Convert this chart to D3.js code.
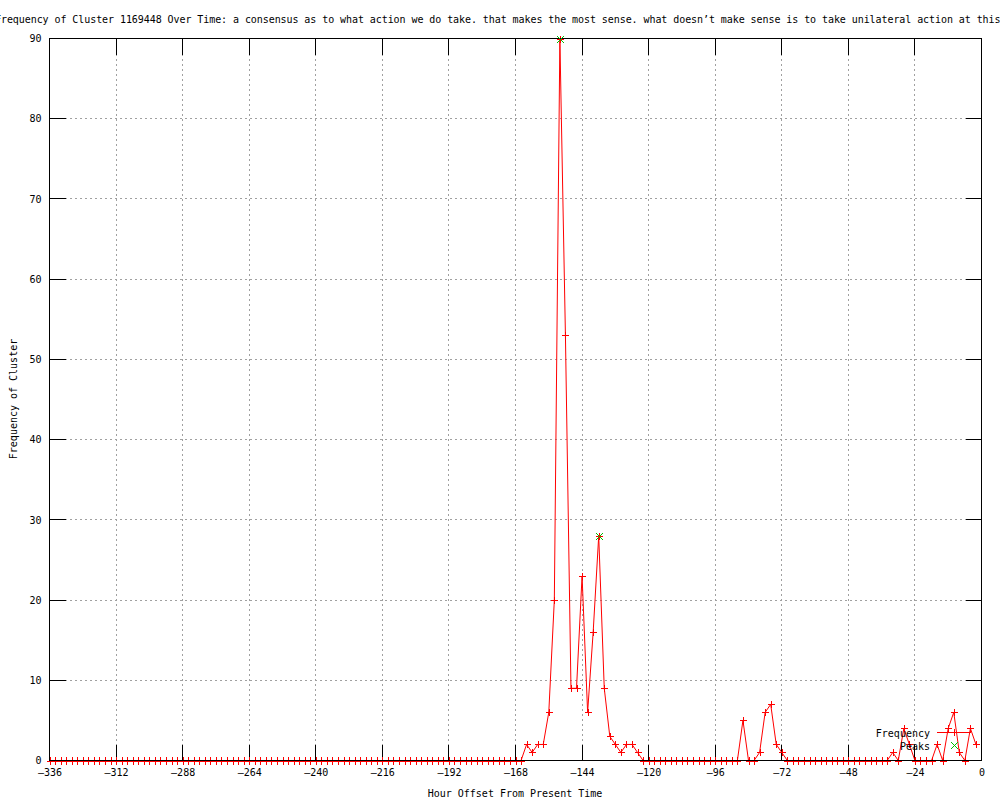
<!DOCTYPE html>
<html>
<head>
<meta charset="utf-8">
<script src="https://cdn.jsdelivr.net/npm/d3@7"></script>
<style>
  html, body { margin: 0; padding: 0; background: #fff; }
  svg { display: block; font-family: 'DejaVu Sans Mono', monospace; font-size: 10px; }
</style>
</head>
<body>
<script>
// ===================================================================

const TITLE = 'Frequency of Cluster 1169448 Over Time: a consensus as to what action we do take. that makes the most sense. what doesn’t make sense is to take unilateral action at this'
const X_LABEL = 'Hour Offset From Present Time'
const Y_LABEL = 'Frequency of Cluster'

const X_TICKS = [ -336, -312, -288, -264, -240, -216, -192, -168, -144, -120, -96, -72, -48, -24, 0 ]
const Y_TICKS = [ 0, 10, 20, 30, 40, 50, 60, 70, 80, 90 ]

// one sample every 2 hours, from -336 to -2
const HOURS = d3.range(-336, 0, 2)

const FREQUENCY = [
  0, 0, 0, 0, 0, 0, 0, 0, 0, 0, 0, 0,
  0, 0, 0, 0, 0, 0, 0, 0, 0, 0, 0, 0,
  0, 0, 0, 0, 0, 0, 0, 0, 0, 0, 0, 0,
  0, 0, 0, 0, 0, 0, 0, 0, 0, 0, 0, 0,
  0, 0, 0, 0, 0, 0, 0, 0, 0, 0, 0, 0,
  0, 0, 0, 0, 0, 0, 0, 0, 0, 0, 0, 0,
  0, 0, 0, 0, 0, 0, 0, 0, 0, 0, 0, 0,
  0, 0, 2, 1, 2, 2, 6, 20, 90, 53, 9, 9,
  23, 6, 16, 28, 9, 3, 2, 1, 2, 2, 1, 0,
  0, 0, 0, 0, 0, 0, 0, 0, 0, 0, 0, 0,
  0, 0, 0, 0, 0, 5, 0, 0, 1, 6, 7, 2,
  1, 0, 0, 0, 0, 0, 0, 0, 0, 0, 0, 0,
  0, 0, 0, 0, 0, 0, 0, 0, 1, 0, 4, 2,
  0, 0, 0, 0, 2, 0, 4, 6, 1, 0, 4, 2
]

const PEAK_HOURS = [ -152, -138 ]
const PEAK_VALUES = [ 90, 28 ]

// ===================================================================

const WIDTH = 1000
const HEIGHT = 800

const LEFT = 49.5
const RIGHT = 981.5
const TOP = 38.5
const BOTTOM = 760.5

const TICK = 16
const MARK = 3.5

const RED = '#ff0000'
const GREEN = '#00c000'

const svg = d3.select('body').append('svg')
  .attr('width', WIDTH)
  .attr('height', HEIGHT)

const x = d3.scaleLinear().domain([ -336, 0 ]).range([ LEFT, RIGHT ])
const y = d3.scaleLinear().domain([ 0, 90 ]).range([ BOTTOM, TOP ])

const data = HOURS.map((h, i) => ({ h, v: FREQUENCY[i] }))
const peaks = PEAK_HOURS.map((h, i) => ({ h, v: PEAK_VALUES[i] }))

// grid
const grid = svg.append('g')
  .attr('stroke', '#a0a0a0')
  .attr('stroke-dasharray', '2,3')
  .attr('shape-rendering', 'crispEdges')

grid.selectAll('line.gx')
  .data(X_TICKS.slice(1, -1))
  .join('line')
    .attr('x1', d => Math.round(x(d) - 0.5) + 0.5)
    .attr('x2', d => Math.round(x(d) - 0.5) + 0.5)
    .attr('y1', TOP)
    .attr('y2', BOTTOM)

grid.selectAll('line.gy')
  .data(Y_TICKS.slice(1, -1))
  .join('line')
    .attr('x1', LEFT)
    .attr('x2', RIGHT)
    .attr('y1', d => Math.round(y(d) - 0.5) + 0.5)
    .attr('y2', d => Math.round(y(d) - 0.5) + 0.5)

// axes
const xAxis = d3.axisBottom(x).tickValues(X_TICKS).tickSize(0).tickPadding(8).tickFormat(d3.format('d'))
const yAxis = d3.axisLeft(y).tickValues(Y_TICKS).tickSize(0).tickPadding(8)

const gx = svg.append('g')
  .attr('transform', `translate(0, ${BOTTOM})`)
  .call(xAxis)
gx.select('.domain').remove()
gx.selectAll('text')
  .attr('font-family', 'DejaVu Sans Mono, monospace')
  .attr('font-size', 10)
  .attr('fill', '#000')
  .attr('y', 8)
  .attr('dy', '0.71em')
  .text(d => d < 0 ? '–' + Math.abs(d) : d)

const gy = svg.append('g')
  .attr('transform', `translate(${LEFT}, 0)`)
  .call(yAxis)
gy.select('.domain').remove()
gy.selectAll('text')
  .attr('font-family', 'DejaVu Sans Mono, monospace')
  .attr('font-size', 10)
  .attr('fill', '#000')

// tick marks, inward on all four sides
const ticks = svg.append('g')
  .attr('stroke', '#000')
  .attr('shape-rendering', 'crispEdges')

X_TICKS.forEach(t => {
  const px = Math.round(x(t) - 0.5) + 0.5
  ticks.append('line').attr('x1', px).attr('x2', px).attr('y1', BOTTOM).attr('y2', BOTTOM - TICK)
  ticks.append('line').attr('x1', px).attr('x2', px).attr('y1', TOP).attr('y2', TOP + TICK)
})
Y_TICKS.forEach(t => {
  const py = Math.round(y(t) - 0.5) + 0.5
  ticks.append('line').attr('x1', LEFT).attr('x2', LEFT + TICK).attr('y1', py).attr('y2', py)
  ticks.append('line').attr('x1', RIGHT).attr('x2', RIGHT - TICK).attr('y1', py).attr('y2', py)
})

// frequency series
const line = d3.line()
  .x(d => x(d.h))
  .y(d => y(d.v))

svg.append('path')
  .datum(data)
  .attr('d', line)
  .attr('fill', 'none')
  .attr('stroke', RED)
  .attr('stroke-width', 1)

const plus = (g, cx, cy) => {
  g.append('path')
    .attr('d', `M${cx - MARK},${cy}H${cx + MARK}M${cx},${cy - MARK}V${cy + MARK}`)
}

const marks = svg.append('g')
  .attr('stroke', RED)
  .attr('fill', 'none')
  .attr('shape-rendering', 'crispEdges')
data.forEach(d => plus(marks, Math.round(x(d.h)) + 0.5, Math.round(y(d.v)) + 0.5))

// border
svg.append('rect')
  .attr('x', LEFT)
  .attr('y', TOP)
  .attr('width', RIGHT - LEFT)
  .attr('height', BOTTOM - TOP)
  .attr('fill', 'none')
  .attr('stroke', '#000')
  .attr('shape-rendering', 'crispEdges')

// zero-valued points show on top of the axis line
const zeroMarks = svg.append('g')
  .attr('stroke', RED)
  .attr('shape-rendering', 'crispEdges')
data.filter(d => d.v === 0).forEach(d => {
  const px = Math.round(x(d.h)) + 0.5
  zeroMarks.append('line').attr('x1', px).attr('x2', px).attr('y1', BOTTOM - MARK).attr('y2', BOTTOM - 0.5)
  zeroMarks.append('line').attr('x1', px).attr('x2', px).attr('y1', BOTTOM + 0.5).attr('y2', BOTTOM + MARK)
})

// peaks
const cross = (g, cx, cy) => {
  g.append('path')
    .attr('d', `M${cx - MARK},${cy - MARK}L${cx + MARK},${cy + MARK}M${cx - MARK},${cy + MARK}L${cx + MARK},${cy - MARK}`)
}

const peakMarks = svg.append('g')
  .attr('stroke', GREEN)
  .attr('fill', 'none')
  .attr('shape-rendering', 'crispEdges')
peaks.forEach(d => cross(peakMarks, Math.round(x(d.h)) + 0.5, Math.round(y(d.v)) + 0.5))

// legend
const legend = svg.append('g')
  .attr('font-family', 'DejaVu Sans Mono, monospace')
  .attr('font-size', 10)

legend.append('text')
  .attr('x', 930)
  .attr('y', 733)
  .attr('dy', '0.35em')
  .attr('text-anchor', 'end')
  .text('Frequency')
legend.append('line')
  .attr('x1', 937)
  .attr('x2', 971)
  .attr('y1', 732.5)
  .attr('y2', 732.5)
  .attr('stroke', RED)
  .attr('shape-rendering', 'crispEdges')
const legendPlus = legend.append('g').attr('stroke', RED).attr('shape-rendering', 'crispEdges')
plus(legendPlus, 954.5, 732.5)

legend.append('text')
  .attr('x', 930)
  .attr('y', 746)
  .attr('dy', '0.35em')
  .attr('text-anchor', 'end')
  .text('Peaks')
const legendCross = legend.append('g')
  .attr('stroke', GREEN)
  .attr('fill', 'none')
  .attr('shape-rendering', 'crispEdges')
cross(legendCross, 954.5, 745.5)

// titles (the title is wider than the page, as in the original, and runs off both edges)
svg.append('text')
  .attr('x', -5)
  .attr('y', 19)
  .attr('dy', '0.35em')
  .attr('textLength', TITLE.length * 5.95)
  .attr('lengthAdjust', 'spacing')
  .text(TITLE)

svg.append('text')
  .attr('x', 515)
  .attr('y', 793)
  .attr('dy', '0.35em')
  .attr('text-anchor', 'middle')
  .text(X_LABEL)

svg.append('text')
  .attr('transform', `translate(13, 399) rotate(-90)`)
  .attr('dy', '0.35em')
  .attr('text-anchor', 'middle')
  .text(Y_LABEL)
</script>
</body>
</html>
